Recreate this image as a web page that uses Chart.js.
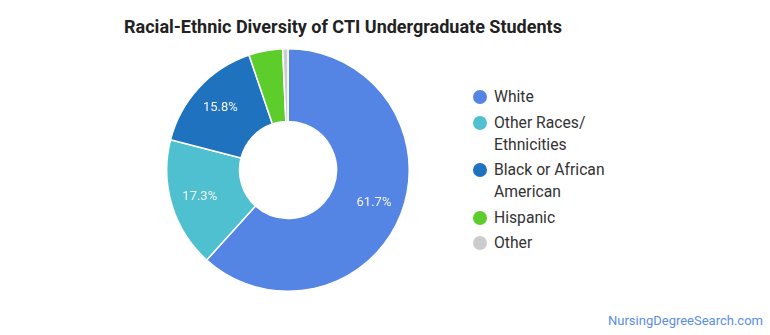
<!DOCTYPE html>
<html>
<head>
<meta charset="utf-8">
<script src="https://cdn.jsdelivr.net/npm/chart.js@4/dist/chart.umd.min.js"></script>
<style>
  body { margin: 0; background: #fff; font-family: Roboto, "Noto Sans", sans-serif; }
  #wrap { position: relative; width: 770px; height: 335px; overflow: hidden; }
  #title { position: absolute; left: 0; top: 16px; width: 686px; text-align: center;
           font-size: 18px; font-weight: bold; color: #222; }
  #chart { position: absolute; left: 166px; top: 48px; }
  #legend { position: absolute; left: 472px; top: 86px; margin: 0; padding: 0; list-style: none; }
  #legend li { position: relative; padding-left: 22px; width: 135px; font-size: 15.7px;
               line-height: 22px; color: #333; margin-bottom: 3.5px; }
  #legend li span { position: absolute; left: 1px; top: 4px; width: 14px; height: 14px; border-radius: 50%; }
  #source { position: absolute; right: 7px; top: 313px; font-size: 13px; color: #5b8de6; }
</style>
</head>
<body>
<div id="wrap">
  <div id="title">Racial-Ethnic Diversity of CTI Undergraduate Students</div>
  <canvas id="chart" width="244" height="244"></canvas>
  <ul id="legend"></ul>
  <div id="source">NursingDegreeSearch.com</div>
</div>
<script>
const labels = ['White', 'Other Races/ Ethnicities', 'Black or African American', 'Hispanic', 'Other'];
const percents = [61.7, 17.3, 15.8, 4.5, 0.7];
const colors = ['#5484e4', '#4ec0cf', '#1f72bd', '#5ccd2b', '#cccccc'];

// labels inside the bigger slices
const sliceLabels = {
  id: 'sliceLabels',
  afterDatasetsDraw(chart) {
    const ctx = chart.ctx;
    const meta = chart.getDatasetMeta(0);
    ctx.save();
    ctx.font = '13px Roboto, sans-serif';
    ctx.fillStyle = '#f4f4f4';
    ctx.textAlign = 'center';
    ctx.textBaseline = 'middle';
    meta.data.forEach((arc, i) => {
      if (percents[i] < 8) return;
      const a = arc.getProps(['x', 'y', 'startAngle', 'endAngle', 'innerRadius', 'outerRadius']);
      const mid = (a.startAngle + a.endAngle) / 2;
      const r = a.innerRadius + (a.outerRadius - a.innerRadius) * 0.6;
      ctx.fillText(percents[i].toFixed(1) + '%', a.x + Math.cos(mid) * r, a.y + Math.sin(mid) * r);
    });
    ctx.restore();
  }
};

new Chart(document.getElementById('chart'), {
  type: 'doughnut',
  data: {
    labels: labels,
    datasets: [{
      data: percents,
      backgroundColor: colors,
      borderColor: '#fff',
      borderWidth: 1.5,
      hoverOffset: 0
    }]
  },
  options: {
    responsive: false,
    devicePixelRatio: 1,
    animation: false,
    cutout: '40%',
    layout: { padding: 0 },
    plugins: {
      legend: { display: false },
      tooltip: { enabled: false }
    }
  },
  plugins: [sliceLabels]
});

const legend = document.getElementById('legend');
labels.forEach((name, i) => {
  const li = document.createElement('li');
  const dot = document.createElement('span');
  dot.style.background = colors[i];
  li.appendChild(dot);
  li.appendChild(document.createTextNode(name));
  legend.appendChild(li);
});
</script>
</body>
</html>
